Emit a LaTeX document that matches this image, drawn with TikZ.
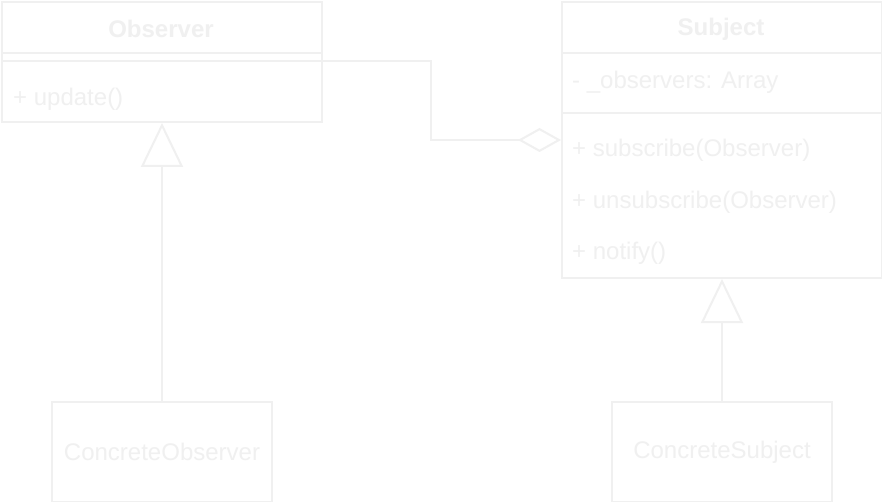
\documentclass[tikz,border=0pt]{standalone}
\usepackage{fontspec}
\setmainfont{Liberation Sans}
\usetikzlibrary{positioning,arrows.meta}
\definecolor{umlgray}{HTML}{F0F0F0}

\begin{document}
\begin{tikzpicture}[x=1pt, y=-1pt,
    uml/.style={draw=umlgray, line width=2pt},
    classbox/.style={uml, anchor=north west, inner sep=0pt},
    classname/.style={text=umlgray, inner sep=0pt, font=\fontsize{24}{28}\selectfont\bfseries},
    member/.style={text=umlgray, anchor=west, inner sep=0pt, font=\fontsize{24}{28}\selectfont},
    plainname/.style={text=umlgray, inner sep=0pt, font=\fontsize{24}{28}\selectfont},
    inherit/.style={uml, -{Triangle[open, length=44pt, width=42pt]}},
    aggregate/.style={uml, -{Diamond[open, length=43pt, width=24pt]}}]

    % Canvas
    \fill[white] (0,0) rectangle (882,502);
    \useasboundingbox (0,0) rectangle (882,502);

    % Observer class
    \node[classbox, minimum width=320pt, minimum height=120pt] (observer) at (1,1) {};
    \draw[uml] (1,53) -- (321,53);
    \draw[uml] (1,61) -- (321,61);
    \node[classname] (obstitle) at (161,29) {Observer};
    \node[member] (obsupdate) at (13,99) {+ update()};

    % Subject class
    \node[classbox, minimum width=320pt, minimum height=276pt] (subject) at (561,1) {};
    \draw[uml] (561,53) -- (881,53);
    \draw[uml] (561,113) -- (881,113);
    \node[classname] (subtitle) at (721,29) {Subject};
    \node[member] (subobservers) at (572,82) {- \_observers: Array};
    \node[member] (subsubscribe) at (572,150) {+ subscribe(Observer)};
    \node[member] (subunsubscribe) at (572,202) {+ unsubscribe(Observer)};
    \node[member] (subnotify) at (572,253) {+ notify()};

    % Concrete classes
    \node[classbox, minimum width=220pt, minimum height=100pt] (cobserver) at (51,401) {};
    \node[plainname] (cobstitle) at (cobserver.center) {ConcreteObserver};
    \node[classbox, minimum width=220pt, minimum height=100pt] (csubject) at (611,401) {};
    \node[plainname] (csubtitle) at (csubject.center) {ConcreteSubject};

    % Inheritance
    \draw[inherit] (cobserver.north) -- (observer.south);
    \draw[inherit] (csubject.north) -- (subject.south);

    % Aggregation
    \coordinate (obsjoin) at (321,61);
    \draw[aggregate] (obsjoin) -- ++(110,0) |- (subject.west);
\end{tikzpicture}
\end{document}
